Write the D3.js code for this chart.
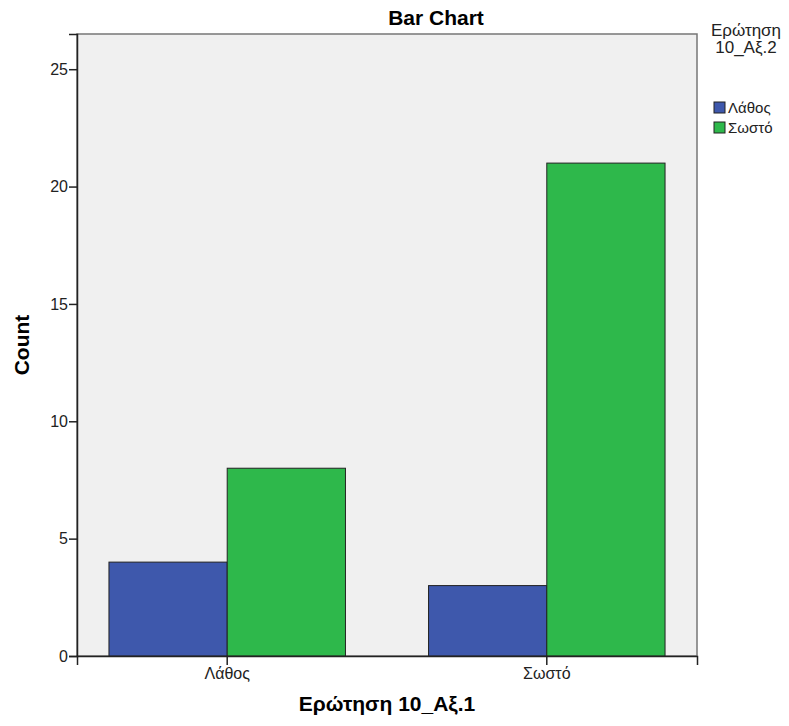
<!DOCTYPE html>
<html>
<head>
<meta charset="utf-8">
<script src="https://cdn.jsdelivr.net/npm/d3@7"></script>
<style>
body { margin: 0; background: #fff; }
text { font-family: Arial, 'Liberation Sans', sans-serif; }
</style>
</head>
<body>
<svg width="789" height="726"></svg>
<script>
const svg = d3.select('svg')

// data
const categories = ['Λάθος', 'Σωστό']
const groups = ['Λάθος', 'Σωστό']
const lathosCounts = [4, 3]
const sostoCounts = [8, 21]
const yTicks = [0, 5, 10, 15, 20, 25]
const colors = ['#3e58ac', '#2eb84b']

const data = categories.map((c, i) => ({cat: c, values: [lathosCounts[i], sostoCounts[i]]}))

const margin = {top: 34, left: 77, right: 92, bottom: 70}
const width = +svg.attr('width')
const height = +svg.attr('height')
const innerWidth = width - margin.left - margin.right
const innerHeight = height - margin.top - margin.bottom

const xScale = d3.scaleBand()
	.domain(categories)
	.range([0, innerWidth])
	.paddingInner(0.26)
	.paddingOuter(0.1)

const x1 = d3.scaleBand()
	.domain(groups)
	.range([0, xScale.bandwidth()])

const yScale = d3.scaleLinear()
	.domain([0, 26.5])
	.range([innerHeight, 0])

const g = svg.append('g')
	.attr('transform', `translate(${margin.left}, ${margin.top})`)

g.append('rect')
	.attr('width', innerWidth)
	.attr('height', innerHeight)
	.attr('fill', '#f0f0f0')
	.attr('stroke', '#777')
	.attr('stroke-width', 1.5)

const yAxis = d3.axisLeft(yScale)
	.tickValues(yTicks)
	.tickSize(8)
	.tickPadding(1)

const yG = g.append('g').call(yAxis)
yG.select('.domain').attr('stroke', '#222').attr('stroke-width', 1.5)
yG.selectAll('.tick line').attr('stroke', '#222').attr('stroke-width', 1.5)
yG.selectAll('.tick text').attr('font-size', 16).attr('fill', '#222')

// bars
const catG = g.selectAll('.cat')
	.data(data)
	.enter()
	.append('g')
	.attr('transform', d => `translate(${xScale(d.cat)}, 0)`)

catG.selectAll('rect')
	.data(d => d.values.map((v, i) => ({group: groups[i], v, i})))
	.enter()
	.append('rect')
	.attr('x', d => x1(d.group))
	.attr('y', d => yScale(d.v))
	.attr('width', x1.bandwidth())
	.attr('height', d => innerHeight - yScale(d.v))
	.attr('fill', d => colors[d.i])
	.attr('stroke', '#222')
	.attr('stroke-width', 1)

const xAxis = d3.axisBottom(xScale)
	.tickSize(9)
	.tickPadding(3)

const xG = g.append('g')
	.attr('transform', `translate(0, ${innerHeight})`)
	.call(xAxis)
xG.select('.domain').attr('stroke', '#222').attr('stroke-width', 1.5)
xG.selectAll('.tick line').attr('stroke', '#222').attr('stroke-width', 1.5)
xG.selectAll('.tick text').attr('font-size', 16).attr('fill', '#222')

// titles
svg.append('text')
	.attr('x', 436)
	.attr('y', 25)
	.attr('text-anchor', 'middle')
	.attr('font-size', 21)
	.attr('font-weight', 'bold')
	.text('Bar Chart')

svg.append('text')
	.attr('x', margin.left + innerWidth / 2)
	.attr('y', 711)
	.attr('text-anchor', 'middle')
	.attr('font-size', 21)
	.attr('font-weight', 'bold')
	.text('Ερώτηση 10_Αξ.1')

svg.append('text')
	.attr('transform', `translate(29, ${margin.top + innerHeight / 2}) rotate(-90)`)
	.attr('text-anchor', 'middle')
	.attr('font-size', 21)
	.attr('font-weight', 'bold')
	.text('Count')

// legend
const legend = svg.append('g')
	.attr('transform', 'translate(706, 0)')

legend.append('text')
	.attr('x', 40).attr('y', 36)
	.attr('text-anchor', 'middle')
	.attr('font-size', 17)
	.attr('fill', '#222')
	.text('Ερώτηση')
legend.append('text')
	.attr('x', 40).attr('y', 53)
	.attr('text-anchor', 'middle')
	.attr('font-size', 17)
	.attr('fill', '#222')
	.text('10_Αξ.2')

const li = legend.selectAll('.li')
	.data(groups)
	.enter()
	.append('g')
	.attr('transform', (d, i) => `translate(8, ${102 + i * 20})`)

li.append('rect')
	.attr('width', 11)
	.attr('height', 11)
	.attr('fill', (d, i) => colors[i])
	.attr('stroke', '#222')

li.append('text')
	.attr('x', 14)
	.attr('y', 11)
	.attr('font-size', 15)
	.attr('fill', '#222')
	.text(d => d)
</script>
</body>
</html>
